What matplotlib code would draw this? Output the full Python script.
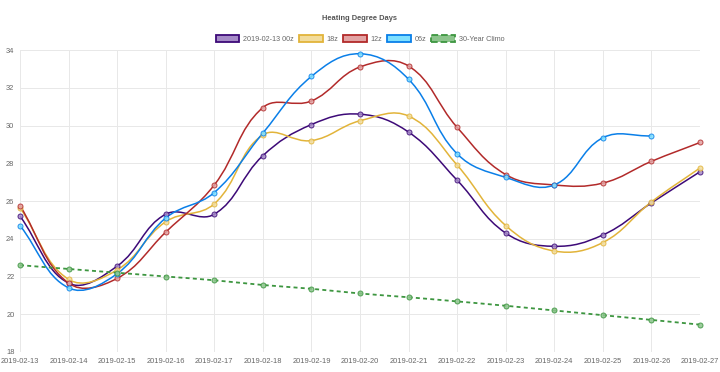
import matplotlib
matplotlib.use("Agg")
import matplotlib.pyplot as plt
from matplotlib.path import Path
from matplotlib.patches import PathPatch, Patch
import numpy as np

plt.rcParams['font.family'] = ['Liberation Sans', 'DejaVu Sans']

dates = ["2019-02-13", "2019-02-14", "2019-02-15", "2019-02-16", "2019-02-17",
         "2019-02-18", "2019-02-19", "2019-02-20", "2019-02-21", "2019-02-22",
         "2019-02-23", "2019-02-24", "2019-02-25", "2019-02-26", "2019-02-27"]

run_00z = [25.2, 21.65, 22.55, 25.3, 25.3, 28.4, 30.05, 30.6, 29.65, 27.1, 24.3, 23.6, 24.2, 25.9, 27.55]
run_18z = [25.65, 21.85, 22.35, 24.9, 25.85, 29.5, 29.2, 30.25, 30.5, 27.9, 24.7, 23.35, 23.8, 25.95, 27.75]
run_12z = [25.75, 21.65, 21.9, 24.35, 26.85, 30.95, 31.3, 33.1, 33.15, 29.9, 27.4, 26.85, 26.95, 28.1, 29.1]
run_06z = [24.7, 21.4, 22.15, 25.1, 26.45, 29.6, 32.6, 33.8, 32.45, 28.5, 27.25, 26.85, 29.35, 29.45]
climo = [22.6, 22.4, 22.2, 22.0, 21.8, 21.55, 21.35, 21.1, 20.9, 20.68, 20.45, 20.2, 19.95, 19.7, 19.45]

series = [
    ("2019-02-13 00z", run_00z, "#3d0a78", "#a58bc7", "-"),
    ("18z", run_18z, "#e2b43a", "#f2dc9c", "-"),
    ("12z", run_12z, "#b22a2a", "#e2a3a3", "-"),
    ("06z", run_06z, "#0a7fe8", "#7fe0ff", "-"),
    ("30-Year Climo", climo, "#3d9640", "#8cc48c", "--"),
]

# pixel scale used for Chart.js style spline control points
SX = 680 / 14.0
SY = 302 / 16.0
TENSION = 0.4


def spline_path(xs, ys):
    px = np.array(xs) * SX
    py = np.array(ys) * SY
    n = len(px)
    cin = []
    cout = []
    for i in range(n):
        p0 = (px[max(i - 1, 0)], py[max(i - 1, 0)])
        p1 = (px[i], py[i])
        p2 = (px[min(i + 1, n - 1)], py[min(i + 1, n - 1)])
        d01 = np.hypot(p1[0] - p0[0], p1[1] - p0[1])
        d12 = np.hypot(p2[0] - p1[0], p2[1] - p1[1])
        tot = d01 + d12
        s01 = d01 / tot if tot else 0
        s12 = d12 / tot if tot else 0
        fa = TENSION * s01
        fb = TENSION * s12
        cin.append((p1[0] - fa * (p2[0] - p0[0]), p1[1] - fa * (p2[1] - p0[1])))
        cout.append((p1[0] + fb * (p2[0] - p0[0]), p1[1] + fb * (p2[1] - p0[1])))
    verts = [(px[0] / SX, py[0] / SY)]
    codes = [Path.MOVETO]
    for i in range(1, n):
        verts.append((cout[i - 1][0] / SX, cout[i - 1][1] / SY))
        verts.append((cin[i][0] / SX, cin[i][1] / SY))
        verts.append((px[i] / SX, py[i] / SY))
        codes += [Path.CURVE4] * 3
    return Path(verts, codes)


fig = plt.figure(figsize=(7.2, 3.72), dpi=100)
ax = fig.add_axes([20 / 720, 1 - 352 / 372, 680 / 720, 302 / 372])

handles = []
for name, vals, col, fill, ls in series:
    xs = list(range(len(vals)))
    if ls == "--":
        patch = PathPatch(spline_path(xs, vals), fill=False, edgecolor=col,
                          lw=1.3, linestyle=(0, (2.2, 1.8)), zorder=3)
    else:
        patch = PathPatch(spline_path(xs, vals), fill=False, edgecolor=col,
                          lw=1.1, zorder=3)
    ax.add_patch(patch)
    ax.plot(xs, vals, "o", ms=3.6, mfc=fill, mec=col, mew=0.7, alpha=0.85,
            zorder=4, clip_on=False)
    handles.append(Patch(facecolor=fill, edgecolor=col, lw=1.3,
                         linestyle="--" if ls == "--" else "-", label=name))

ax.set_xlim(0, 14)
ax.set_ylim(18, 34)
ax.set_xticks(range(len(dates)))
ax.set_xticklabels(dates)
ax.set_yticks(range(18, 35, 2))
ax.grid(True, color="#e8e8e8", lw=0.7)
ax.set_axisbelow(True)
for s in ax.spines.values():
    s.set_visible(False)
ax.tick_params(axis="both", labelsize=5.4, colors="#666666", length=0, pad=4)

fig.text(0.5, 1 - 18 / 372, "Heating Degree Days", ha="center", va="center",
         fontsize=5.4, fontweight="bold", color="#555555")

leg = ax.legend(handles=handles, loc="center", bbox_to_anchor=(0.5, 1 + 11 / 302),
                ncol=5, frameon=False, fontsize=5.2, handlelength=3.3,
                handleheight=1.1, handletextpad=0.5, columnspacing=0.7,
                borderaxespad=0)
for t in leg.get_texts():
    t.set_color("#666666")

fig.savefig("out.png", dpi=100)
